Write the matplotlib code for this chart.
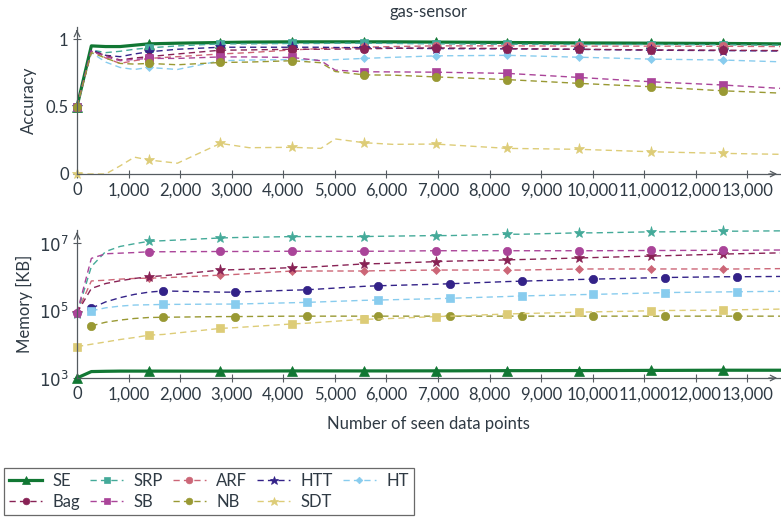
import matplotlib.pyplot as plt
import numpy as np

plt.rcParams["font.family"] = ["Lato", "DejaVu Sans"]
plt.rcParams["lines.scale_dashes"] = False

CHUNK = 278.2  # seen data points between two evaluations

methods = ["SE", "SRP", "ARF", "HTT", "HT", "Bag", "SB", "NB", "SDT"]
colors = ["#117733", "#44AA99", "#CC6677", "#332288", "#88CCEE",
          "#882255", "#AA4499", "#999933", "#DDCC77"]
acc_marks = ["^", "s", "o", "*", "D", "o", "s", "o", "*"]
mem_marks = ["^", "*", "D", "o", "s", "*", "o", "o", "s"]

# accuracy, evaluated at these checkpoints (index * CHUNK)
acc_idx = [0, 1, 2, 3, 4, 5, 7, 10, 12, 15, 17, 18, 20, 22, 25, 30, 35, 40, 45, 49]
acc_se = [0.50, 0.95, 0.945, 0.945, 0.955, 0.965, 0.97, 0.975, 0.978, 0.98,
          0.98, 0.98, 0.98, 0.98, 0.978, 0.975, 0.972, 0.97, 0.968, 0.965]
acc_srp = [0.50, 0.92, 0.90, 0.91, 0.925, 0.935, 0.95, 0.965, 0.965, 0.968,
           0.968, 0.97, 0.97, 0.968, 0.965, 0.962, 0.96, 0.96, 0.958, 0.955]
acc_arf = [0.50, 0.92, 0.86, 0.82, 0.84, 0.857, 0.87, 0.89, 0.90, 0.92,
           0.93, 0.935, 0.94, 0.945, 0.95, 0.95, 0.948, 0.948, 0.947, 0.945]
acc_htt = [0.50, 0.92, 0.88, 0.87, 0.89, 0.906, 0.925, 0.94, 0.94, 0.94,
           0.94, 0.938, 0.936, 0.933, 0.93, 0.928, 0.924, 0.918, 0.915, 0.912]
acc_ht = [0.50, 0.90, 0.83, 0.79, 0.775, 0.79, 0.775, 0.84, 0.845, 0.848,
          0.845, 0.848, 0.857, 0.865, 0.876, 0.88, 0.866, 0.852, 0.845, 0.832]
acc_bag = [0.50, 0.91, 0.88, 0.845, 0.86, 0.87, 0.89, 0.918, 0.92, 0.925,
           0.925, 0.926, 0.928, 0.932, 0.935, 0.93, 0.925, 0.92, 0.918, 0.915]
acc_sb = [0.50, 0.91, 0.87, 0.84, 0.85, 0.857, 0.857, 0.868, 0.868, 0.864,
          0.84, 0.77, 0.758, 0.757, 0.755, 0.746, 0.716, 0.684, 0.66, 0.635]
acc_nb = [0.50, 0.90, 0.86, 0.82, 0.815, 0.82, 0.81, 0.827, 0.83, 0.84,
          0.825, 0.76, 0.735, 0.733, 0.72, 0.70, 0.672, 0.647, 0.617, 0.60]
acc_sdt = [0.0, 0.0, 0.0, 0.06, 0.125, 0.104, 0.08, 0.227, 0.195, 0.198,
           0.19, 0.26, 0.232, 0.22, 0.222, 0.19, 0.183, 0.165, 0.153, 0.146]

# memory in KB (nan = no measurement yet)
mem_idx = [0, 1, 2, 3, 4, 5, 6, 10, 11, 15, 16, 20, 21, 25, 26, 30, 31, 35, 36, 40, 41, 45, 46, 49]
mem_se = [1.0e3, 1.55e3, 1.58e3, 1.6e3, 1.6e3, 1.6e3, 1.6e3, 1.6e3, 1.6e3, 1.62e3,
          1.62e3, 1.62e3, 1.62e3, 1.63e3, 1.63e3, 1.65e3, 1.65e3, 1.66e3, 1.66e3,
          1.68e3, 1.68e3, 1.7e3, 1.7e3, 1.7e3]
mem_srp = [8.0e4, 2.0e6, 5.6e6, 7.9e6, 9.5e6, 1.12e7, 1.17e7, 1.41e7, 1.45e7, 1.55e7,
           1.55e7, 1.55e7, 1.58e7, 1.66e7, 1.66e7, 1.82e7, 1.82e7, 2.0e7, 2.0e7,
           2.14e7, 2.14e7, 2.24e7, 2.24e7, 2.29e7]
mem_arf = [8.5e4, 7.5e5, 7.9e5, 8.5e5, 8.9e5, 9.1e5, 9.3e5, 1.12e6, 1.17e6, 1.48e6,
           1.48e6, 1.48e6, 1.51e6, 1.58e6, 1.58e6, 1.58e6, 1.58e6, 1.7e6, 1.7e6,
           1.7e6, 1.7e6, 1.7e6, 1.7e6, 1.74e6]
mem_htt = [np.nan, 1.17e5, 1.8e5, 2.4e5, 3.0e5, 3.5e5, 3.8e5, 3.5e5, 3.5e5, 4.0e5,
           4.1e5, 5.2e5, 5.4e5, 6.0e5, 6.2e5, 7.2e5, 7.4e5, 8.3e5, 8.5e5,
           9.3e5, 9.5e5, 1.0e6, 1.0e6, 1.02e6]
mem_ht = [np.nan, 9.8e4, 1.2e5, 1.35e5, 1.45e5, 1.48e5, 1.51e5, 1.55e5, 1.55e5, 1.7e5,
          1.74e5, 2.0e5, 2.04e5, 2.24e5, 2.3e5, 2.6e5, 2.7e5, 2.95e5, 3.0e5,
          3.3e5, 3.4e5, 3.55e5, 3.6e5, 3.7e5]
mem_bag = [8.5e4, 4.5e5, 6.3e5, 7.6e5, 8.9e5, 1.0e6, 1.07e6, 1.58e6, 1.62e6, 1.86e6,
           1.9e6, 2.4e6, 2.45e6, 2.8e6, 2.9e6, 3.16e6, 3.24e6, 3.6e6, 3.7e6,
           4.1e6, 4.2e6, 4.7e6, 4.8e6, 5.1e6]
mem_sb = [8.5e4, 3.5e6, 4.8e6, 5.0e6, 5.2e6, 5.5e6, 5.5e6, 5.6e6, 5.6e6, 5.7e6,
          5.7e6, 5.7e6, 5.7e6, 5.9e6, 5.9e6, 5.9e6, 5.9e6, 5.9e6, 5.9e6,
          6.0e6, 6.0e6, 6.1e6, 6.1e6, 6.2e6]
mem_nb = [np.nan, 3.5e4, 4.5e4, 5.2e4, 5.8e4, 6.2e4, 6.3e4, 6.6e4, 6.6e4, 6.8e4,
          6.8e4, 6.8e4, 6.8e4, 6.8e4, 6.8e4, 6.8e4, 6.8e4, 6.8e4, 6.8e4,
          6.8e4, 6.8e4, 6.8e4, 6.8e4, 6.8e4]
mem_sdt = [8.5e3, 1.0e4, 1.17e4, 1.38e4, 1.58e4, 1.86e4, 1.95e4, 2.95e4, 3.1e4, 4.0e4,
           4.2e4, 5.5e4, 5.6e4, 6.6e4, 6.8e4, 7.9e4, 8.1e4, 8.9e4, 9.1e4,
           9.8e4, 1.0e5, 1.02e5, 1.05e5, 1.1e5]

acc = [acc_se, acc_srp, acc_arf, acc_htt, acc_ht, acc_bag, acc_sb, acc_nb, acc_sdt]
mem = [mem_se, mem_srp, mem_arf, mem_htt, mem_ht, mem_bag, mem_sb, mem_nb, mem_sdt]

TEXT = "#2f3a44"
AXIS = "#555b60"
marker_size = {"^": 6.5, "s": 5.5, "o": 6, "*": 8, "D": 4.2}


def draw_series(ax, idx, values, marks):
    idx = np.array(idx)
    for name, color, marker, vals in zip(methods, colors, marks, values):
        vals = np.array(vals, dtype=float)
        valid = ~np.isnan(vals)
        x, y = idx[valid], vals[valid]
        every = [k for k in range(len(x)) if (x[k] - x[0]) % 5 == 0]
        solid = name == "SE"
        ax.plot(x * CHUNK, y, color=color,
                lw=2.3 if solid else 1.0,
                ls="-" if solid else (0, (4.5, 3)),
                marker=marker, ms=marker_size[marker], mec=color, mew=0.5,
                markevery=every, clip_on=False, label=name)


def style_axis(ax):
    for side in ("top", "right"):
        ax.spines[side].set_visible(False)
    for side in ("left", "bottom"):
        ax.spines[side].set_color(AXIS)
        ax.spines[side].set_linewidth(0.9)
    ax.tick_params(direction="inout", length=6, width=0.8, color=AXIS,
                   labelcolor=TEXT, labelsize=12, pad=3)
    ax.tick_params(which="minor", length=0)
    ax.set_xlim(0, 49 * CHUNK)
    ax.set_xticks(np.arange(0, 13001, 1000))
    ax.set_xticklabels([f"{t:,}" for t in range(0, 13001, 1000)])
    arrow = dict(arrowstyle="->", color=AXIS, lw=0.9, mutation_scale=10)
    ax.annotate("", xy=(1.0, 0), xytext=(0.98, 0), xycoords="axes fraction",
                arrowprops=arrow)
    ax.annotate("", xy=(0, 1.0), xytext=(0, 0.95), xycoords="axes fraction",
                arrowprops=arrow)


fig = plt.figure(figsize=(7.81, 5.21), dpi=100)
ax1 = fig.add_axes([77 / 781, 1 - 174 / 521, 703 / 781, 147 / 521])
ax2 = fig.add_axes([77 / 781, 1 - 378 / 521, 703 / 781, 148.5 / 521])

draw_series(ax1, acc_idx, acc, acc_marks)
style_axis(ax1)
ax1.set_ylim(0, 1.09)
ax1.set_yticks([0, 0.5, 1])
ax1.set_yticklabels(["0", "0.5", "1"])
ax1.set_ylabel("Accuracy", fontsize=12, color=TEXT, labelpad=6)

draw_series(ax2, mem_idx, mem, mem_marks)
ax2.set_yscale("log")
style_axis(ax2)
ax2.set_ylim(1e3, 10 ** 7.4)
ax2.set_yticks([1e3, 1e5, 1e7])
ax2.set_yticklabels([r"$10^3$", r"$10^5$", r"$10^7$"])
ax2.set_ylabel("Memory [KB]", fontsize=12, color=TEXT, labelpad=4)

fig.text(428 / 781, 1 - 12 / 521, "gas-sensor", ha="center", va="center",
         fontsize=12, color=TEXT)
fig.text(428 / 781, 1 - 424 / 521, "Number of seen data points", ha="center",
         va="center", fontsize=12, color=TEXT)

# legend is filled column by column; order so rows read like the reference
handles, labels = ax1.get_legend_handles_labels()
order = [0, 5, 1, 6, 2, 7, 3, 8, 4]
leg = fig.legend([handles[k] for k in order], [labels[k] for k in order],
                 ncol=5, loc="upper left",
                 bbox_to_anchor=(4 / 781, 1 - 468 / 521), borderaxespad=0,
                 fontsize=12, frameon=True, fancybox=False, handlelength=2,
                 handletextpad=0.6, columnspacing=0.6, labelspacing=0.3,
                 borderpad=0.3, markerscale=0.8)
leg.get_frame().set_edgecolor("#444444")
leg.get_frame().set_linewidth(0.9)
for text in leg.get_texts():
    text.set_color(TEXT)

fig.savefig("out.png", dpi=100)
